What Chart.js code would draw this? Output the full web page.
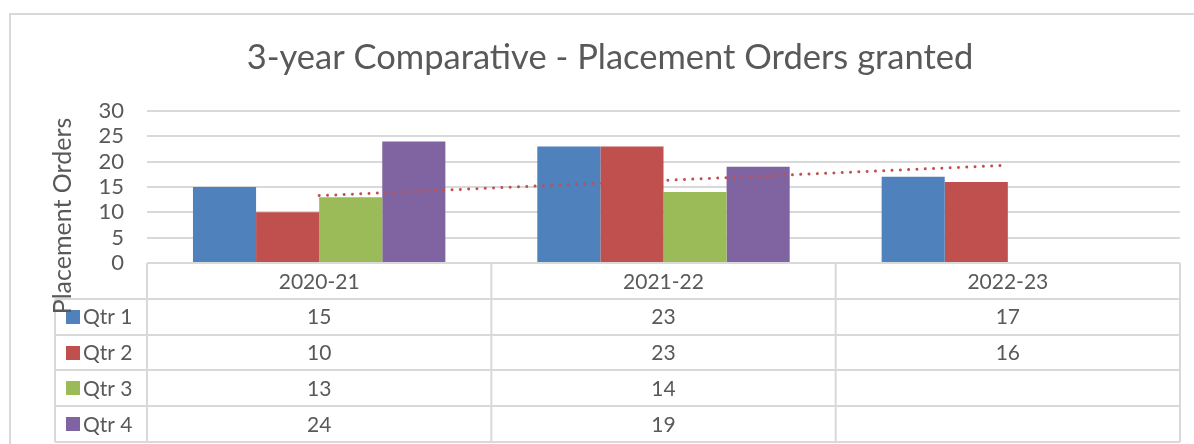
<!DOCTYPE html>
<html>
<head>
<meta charset="utf-8">
<script src="https://cdn.jsdelivr.net/npm/chart.js@4.4.0/dist/chart.umd.min.js"></script>
<style>
  html, body { margin: 0; padding: 0; background: #fff; }
  #wrap { width: 1194px; height: 444px; }
</style>
</head>
<body>
<div id="wrap"><canvas id="chart" width="1194" height="444"></canvas></div>
<script>
// Data
const years = ["2020-21", "2021-22", "2022-23"]
const qtrNames = ["Qtr 1", "Qtr 2", "Qtr 3", "Qtr 4"]
const qtr1 = [15, 23, 17]
const qtr2 = [10, 23, 16]
const qtr3 = [13, 14, null]
const qtr4 = [24, 19, null]
const trendQtr2 = [13.3, 16.3, 19.3]
const yTicks = [0, 5, 10, 15, 20, 25, 30]

const colors = ["#4F81BD", "#C0504D", "#9BBB59", "#8064A2"]
const gridColor = "#D9D9D9"
const textColor = "#595959"
const fontFamily = "Lato, 'Open Sans', sans-serif"

// Outer frame, title, axis title and data table drawn around the plot area
const tablePlugin = {
  id: "dataTable",
  beforeDraw(chart) {
    const ctx = chart.ctx
    ctx.save()
    ctx.strokeStyle = gridColor
    ctx.lineWidth = 2
    ctx.beginPath()
    ctx.moveTo(10, 444)
    ctx.lineTo(10, 14)
    ctx.lineTo(1194, 14)
    ctx.stroke()

    ctx.fillStyle = textColor
    ctx.font = "34.5px " + fontFamily
    ctx.textAlign = "center"
    ctx.textBaseline = "middle"
    ctx.fillText("3-year Comparative - Placement Orders granted", 610, 58)
    ctx.restore()
  },
  afterDraw(chart) {
    const ctx = chart.ctx
    const area = chart.chartArea
    const x = chart.scales.x
    const half = (x.getPixelForValue(1) - x.getPixelForValue(0)) / 2
    const rowH = 35.8
    const legendLeft = 55
    const top = area.bottom
    const rows = [qtr1, qtr2, qtr3, qtr4]

    ctx.save()
    ctx.strokeStyle = gridColor
    ctx.lineWidth = 2
    ctx.beginPath()
    // horizontal lines
    ctx.moveTo(area.left, top)
    ctx.lineTo(area.right, top)
    for (let r = 1; r <= rows.length + 1; r++) {
      const y = Math.round(top + r * rowH)
      ctx.moveTo(legendLeft, y)
      ctx.lineTo(area.right, y)
    }
    const bottom = Math.round(top + (rows.length + 1) * rowH)
    // vertical lines
    ctx.moveTo(legendLeft, Math.round(top + rowH))
    ctx.lineTo(legendLeft, bottom)
    years.forEach((y, i) => {
      const xl = x.getPixelForValue(i) - half
      ctx.moveTo(xl, top)
      ctx.lineTo(xl, bottom)
    })
    ctx.moveTo(area.right, top)
    ctx.lineTo(area.right, bottom)
    ctx.stroke()

    ctx.fillStyle = textColor
    ctx.font = "21px " + fontFamily
    ctx.textBaseline = "middle"
    ctx.textAlign = "center"
    years.forEach((y, i) => {
      ctx.fillText(y, x.getPixelForValue(i), top + rowH / 2 + 1)
    })
    rows.forEach((vals, r) => {
      const cy = top + (r + 1.5) * rowH + 1
      vals.forEach((v, i) => {
        if (v !== null) ctx.fillText(String(v), x.getPixelForValue(i), cy)
      })
    })
    // legend keys
    ctx.textAlign = "left"
    qtrNames.forEach((name, r) => {
      const cy = top + (r + 1.5) * rowH
      ctx.fillStyle = colors[r]
      ctx.fillRect(66, Math.round(cy - 7), 14, 14)
      ctx.fillStyle = textColor
      ctx.fillText(name, 83, cy + 1)
    })

    // y axis title
    ctx.translate(63, 216)
    ctx.rotate(-Math.PI / 2)
    ctx.textAlign = "center"
    ctx.font = "25px " + fontFamily
    ctx.fillText("Placement Orders", 0, 0)
    ctx.restore()
  }
}

const barSet = (label, data, i) => ({
  label: label,
  data: data,
  backgroundColor: colors[i],
  categoryPercentage: 0.733,
  barPercentage: 1,
  order: 1
})

new Chart(document.getElementById("chart"), {
  type: "bar",
  data: {
    labels: years,
    datasets: [
      barSet(qtrNames[0], qtr1, 0),
      barSet(qtrNames[1], qtr2, 1),
      barSet(qtrNames[2], qtr3, 2),
      barSet(qtrNames[3], qtr4, 3),
      {
        type: "line",
        label: "Linear (Qtr 2)",
        data: trendQtr2,
        borderColor: "#C0504D",
        borderWidth: 3,
        borderDash: [0.01, 8.3],
        borderCapStyle: "round",
        pointRadius: 0,
        fill: false,
        order: 0
      }
    ]
  },
  options: {
    responsive: false,
    animation: false,
    devicePixelRatio: 1,
    layout: { padding: { left: 0, right: 14, top: 111, bottom: 181 } },
    plugins: {
      legend: { display: false },
      tooltip: { enabled: false },
      title: { display: false }
    },
    scales: {
      x: { display: false },
      y: {
        min: 0,
        max: 30,
        afterFit: (s) => { s.width = 147 },
        afterBuildTicks: (s) => { s.ticks = yTicks.map((v) => ({ value: v })) },
        grid: { color: gridColor, lineWidth: 2, drawTicks: false },
        border: { display: false },
        ticks: {
          color: textColor,
          padding: 23,
          autoSkip: false,
          font: { family: fontFamily, size: 22 }
        }
      }
    }
  },
  plugins: [tablePlugin]
})
</script>
</body>
</html>
